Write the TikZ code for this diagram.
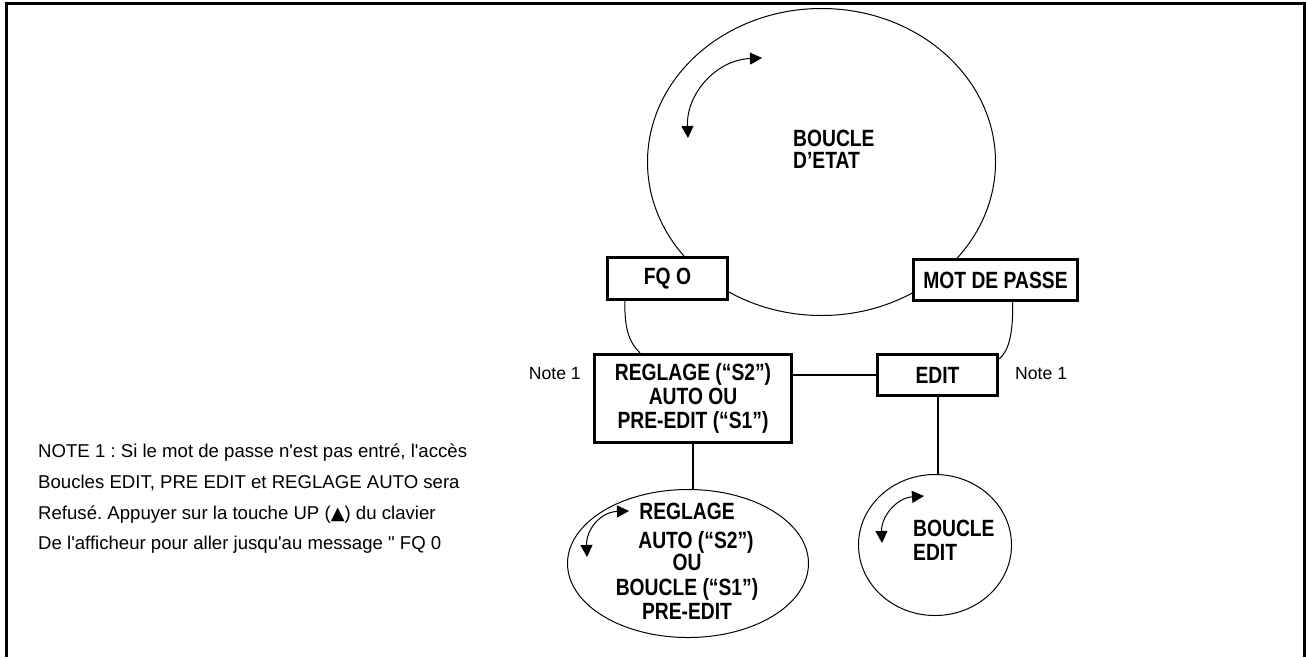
\documentclass[tikz,border=0pt]{standalone}
\usepackage{fontspec}
\usepackage{tikz}
\usetikzlibrary{arrows.meta,shapes.geometric,calc}
\newfontfamily\notefont{Liberation Sans}
\newfontfamily\condfont[FakeStretch=0.82]{Liberation Sans}
\newfontfamily\symbfont{DejaVu Sans}
\frenchspacing

\begin{document}
\begin{tikzpicture}[
    x=1pt, y=-1pt,
    cadre/.style={line width=3.3pt},
    boite/.style={draw, line width=3pt, fill=white, inner sep=0pt, align=center,
        font=\condfont\bfseries\fontsize{23.5}{24}\selectfont},
    boucle/.style={draw, ellipse, line width=1pt, inner sep=0pt},
    gras/.style={inner sep=0pt, font=\condfont\bfseries\fontsize{23.5}{24}\selectfont},
    note/.style={inner sep=0pt, font=\notefont\fontsize{17.6}{21}\selectfont},
    remarque/.style={inner sep=0pt, align=left, font=\notefont\fontsize{18.6}{30.7}\selectfont},
    lien/.style={line width=2pt},
    fil/.style={line width=1pt},
    fleche/.style={line width=1pt, {Triangle[length=12pt,width=12pt]}-{Triangle[length=12pt,width=12pt]}},
]
\useasboundingbox (0,0) rectangle (1306,657);
\draw[cadre] (6.7,657) -- (6.7,3.3) -- (1304.7,3.3) -- (1304.7,657);

% boucle d'etat
\node[boucle, minimum width=348pt, minimum height=307pt] (etat) at (821.5,162) {};
\draw[fleche] (688,138) .. controls (686,95) and (715,60) .. (762,58);
\node[gras, anchor=west, align=left] (etatlbl) at (793,149) {BOUCLE\\[-2pt]D’ETAT};

% boites
\node[boite, minimum width=120pt, minimum height=42pt] (fq) at (667.5,278.5) {FQ O};
\node[boite, minimum width=164pt, minimum height=41pt] (mdp) at (995.5,280) {MOT DE PASSE};
\node[boite, minimum width=197pt, minimum height=88pt] (reglage) at (693,398.5)
    {REGLAGE (“S2”)\\AUTO OU\\PRE-EDIT (“S1”)};
\node[boite, minimum width=120pt, minimum height=41pt] (edit) at (937.5,375) {EDIT};

\node[note, anchor=east] (note1g) at (581,374) {Note 1};
\node[note, anchor=west] (note1d) at (1015,374) {Note 1};

\draw[lien] (edit.west) -- (edit.west -| reglage.east);
\draw[fil] ($(fq.south west)+(19,0)$) .. controls +(-1,29) and +(-10,-10) .. ($(reglage.north west)+(47,0)$);
\draw[fil] ($(mdp.south west)+(100.5,0)$) .. controls +(1,33) and +(9,-7) .. ($(edit.east)+(0,-16)$);

% boucles du bas
\node[boucle, minimum width=241pt, minimum height=148pt] (pre) at (688,563.5) {};
\node[boucle, minimum width=153pt, minimum height=141pt] (bedit) at (935,545) {};
\draw[lien] (reglage.south) -- (reglage.south |- pre.north);
\draw[lien] (edit.south) -- (edit.south |- bedit.north);

\draw[fleche] (587,557) .. controls (586,530) and (600,512) .. (629,511);
\node[gras, align=center] (pretxt) at (687,561)
    {REGLAGE\\[5pt]\hspace*{18pt}AUTO (“S2”)\\[-2pt]OU\\[1pt]BOUCLE (“S1”)\\[0pt]PRE-EDIT};

\draw[fleche] (882,543) .. controls (881,517) and (896,498) .. (924,496);
\node[gras, anchor=west, align=left] (bedittxt) at (913,540) {BOUCLE\\EDIT};

% note
\node[remarque, anchor=west] (remtxt) at (38,499)
    {NOTE 1 : Si le mot de passe n'est pas entré, l'accès\\
     Boucles EDIT, PRE EDIT et REGLAGE AUTO sera\\
     Refusé. Appuyer sur la touche UP ({\symbfont\fontsize{18}{18}\selectfont ▲}) du clavier\\
     De l'afficheur pour aller jusqu'au message " FQ 0};
\end{tikzpicture}
\end{document}
